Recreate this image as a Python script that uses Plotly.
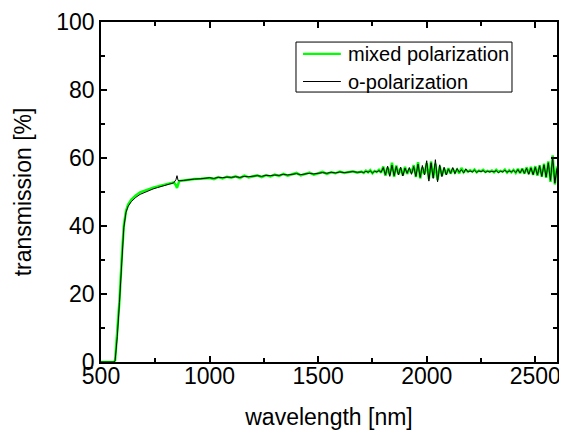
import plotly.graph_objects as go

# ---- data ----
wl_edge = [500, 530, 560, 565, 575, 585, 595, 605, 615, 625, 640, 660, 680, 700,
           720, 740, 760, 780, 800, 820, 835, 845, 850, 855, 860, 880, 900, 930, 960, 980]
mixed_edge = [0, 0, 0, 0.5, 8, 18, 30, 40, 44.4, 46.3, 47.8, 49.0, 49.9, 50.4,
              50.8, 51.3, 51.6, 52.0, 52.3, 52.6, 52.8, 52.0, 51.2, 52.6, 53.2, 53.4, 53.6, 53.8, 53.9, 54.0]
opol_edge = [0, 0, 0, 0.4, 7.5, 17.5, 29.5, 39.5, 44.0, 45.8, 47.2, 48.4, 49.3, 49.9,
             50.4, 50.9, 51.3, 51.7, 52.0, 52.4, 52.7, 53.6, 54.8, 53.4, 53.3, 53.4, 53.6, 53.8, 53.9, 54.0]

wl_mid = list(range(1000, 1700, 20))
mixed_mid = [54.1, 53.8, 54.4, 54.0, 54.5, 54.2, 54.6, 54.1, 54.8, 54.3, 54.7, 54.9, 54.4, 55.0,
             54.6, 55.1, 54.7, 55.3, 54.8, 55.2, 55.6, 54.9, 55.4, 55.7, 55.1, 55.6, 55.9, 55.3,
             55.8, 55.5, 56.0, 55.6, 55.9, 56.1, 55.7]
opol_mid = [54.2, 54.0, 54.3, 54.2, 54.4, 54.3, 54.5, 54.3, 54.6, 54.5, 54.7, 54.8, 54.6, 54.9,
            54.8, 55.0, 54.9, 55.2, 55.0, 55.2, 55.4, 55.1, 55.4, 55.5, 55.3, 55.6, 55.7, 55.5,
            55.8, 55.6, 55.9, 55.7, 55.9, 56.0, 55.8]

wl_ir = list(range(1700, 2610, 10))
mixed_ir = [56.0, 55.6, 56.3, 55.8, 56.4, 55.5, 56.2, 55.9, 56.5, 55.7,
            57.5, 54.8, 57.2, 55.0, 58.6, 54.5, 57.8, 55.2, 57.0, 54.9,
            57.4, 55.3, 56.8, 55.6, 57.9, 54.4, 58.8, 54.0, 57.2, 55.3,
            58.5, 53.8, 59.0, 54.2, 58.3, 53.5, 57.6, 54.8, 56.9, 55.2,
            57.0, 55.4, 56.8, 55.7, 56.6, 55.5, 57.1, 55.8, 56.5, 56.0,
            56.4, 56.0, 56.6, 55.8, 56.3, 56.1, 56.5, 55.9, 56.2, 56.0,
            56.3, 55.8, 56.5, 55.9, 56.2, 56.0, 56.6, 55.7, 56.4, 55.8,
            56.5, 55.6, 56.8, 55.5, 56.9, 55.4, 57.2, 55.3, 57.4, 55.0,
            57.6, 54.8, 57.9, 54.5, 58.3, 54.2, 59.0, 53.0, 60.8, 52.2,
            57.5]
opol_ir = [55.9, 55.7, 56.1, 55.8, 56.2, 55.6, 56.1, 55.9, 56.3, 55.8,
           57.2, 55.0, 57.6, 54.6, 57.9, 54.8, 57.5, 55.0, 57.3, 54.7,
           57.0, 55.5, 57.2, 55.2, 57.5, 54.6, 58.2, 54.3, 57.8, 55.0,
           59.2, 53.2, 58.6, 54.0, 59.5, 53.0, 58.0, 54.5, 57.3, 55.0,
           56.8, 55.5, 57.2, 55.4, 56.9, 55.8, 56.6, 55.6, 56.8, 55.9,
           56.2, 55.9, 56.4, 55.8, 56.2, 56.0, 56.3, 55.8, 56.1, 55.9,
           56.1, 55.9, 56.3, 55.7, 56.1, 55.9, 56.4, 55.8, 56.2, 55.9,
           56.4, 55.7, 56.6, 55.6, 56.8, 55.5, 57.0, 55.2, 57.1, 55.1,
           57.3, 55.0, 57.7, 54.6, 58.0, 54.4, 58.6, 53.4, 60.2, 52.6,
           57.0]

series_names = ["mixed polarization", "o-polarization"]
series_colors = ["#00ff00", "black"]
series_widths = [2.5, 1]

wavelength = wl_edge + wl_mid + wl_ir
mixed = mixed_edge + mixed_mid + mixed_ir
opol = opol_edge + opol_mid + opol_ir

FONT = "Liberation Sans, Arial, sans-serif"

fig = go.Figure()
for name, ys, col, w in zip(series_names, [mixed, opol], series_colors, series_widths):
    fig.add_trace(go.Scatter(x=wavelength, y=ys, mode="lines", name=name,
                             line=dict(color=col, width=w), showlegend=False))

axis_common = dict(showline=True, linecolor="black", linewidth=1.5, mirror="allticks",
                   ticks="inside", ticklen=6, tickwidth=1.5, tickcolor="black",
                   showgrid=False, zeroline=False, automargin=False,
                   tickfont=dict(family=FONT, size=23, color="black"))

fig.update_xaxes(range=[500, 2600], tickvals=[500, 1000, 1500, 2000, 2500], ticklabelstandoff=-7,
                 minor=dict(ticks="inside", ticklen=4, tickcolor="black", dtick=250, tick0=500, showgrid=False),
                 title=dict(text="wavelength [nm]", font=dict(family=FONT, size=23, color="black"), standoff=21),
                 **axis_common)
fig.update_yaxes(range=[0, 100], tickvals=[0, 20, 40, 60, 80, 100],
                 minor=dict(ticks="inside", ticklen=4, tickcolor="black", dtick=10, tick0=0, showgrid=False),
                 title=dict(text="transmission [%]", font=dict(family=FONT, size=23, color="black"), standoff=18),
                 **axis_common)

# legend box drawn in paper coordinates
fig.add_shape(type="rect", xref="paper", yref="paper", x0=0.4276, x1=0.9013, y0=0.794, y1=0.941,
              line=dict(color="black", width=1), fillcolor="white", layer="above")
leg_y = [0.906, 0.825]
leg_w = [2.2, 1.2]
for name, col, w, yy in zip(series_names, series_colors, leg_w, leg_y):
    fig.add_shape(type="line", xref="paper", yref="paper", x0=0.443, x1=0.526, y0=yy, y1=yy,
                  line=dict(color=col, width=w), layer="above")
    fig.add_annotation(xref="paper", yref="paper", x=0.537, y=yy, text=name, showarrow=False,
                       xanchor="left", yanchor="middle",
                       font=dict(family=FONT, size=20, color="black"))

fig.update_layout(width=559, height=422, plot_bgcolor="white", paper_bgcolor="white",
                  margin=dict(l=93, r=10, t=14, b=68, autoexpand=False), showlegend=False)

fig.write_html("out.html")
